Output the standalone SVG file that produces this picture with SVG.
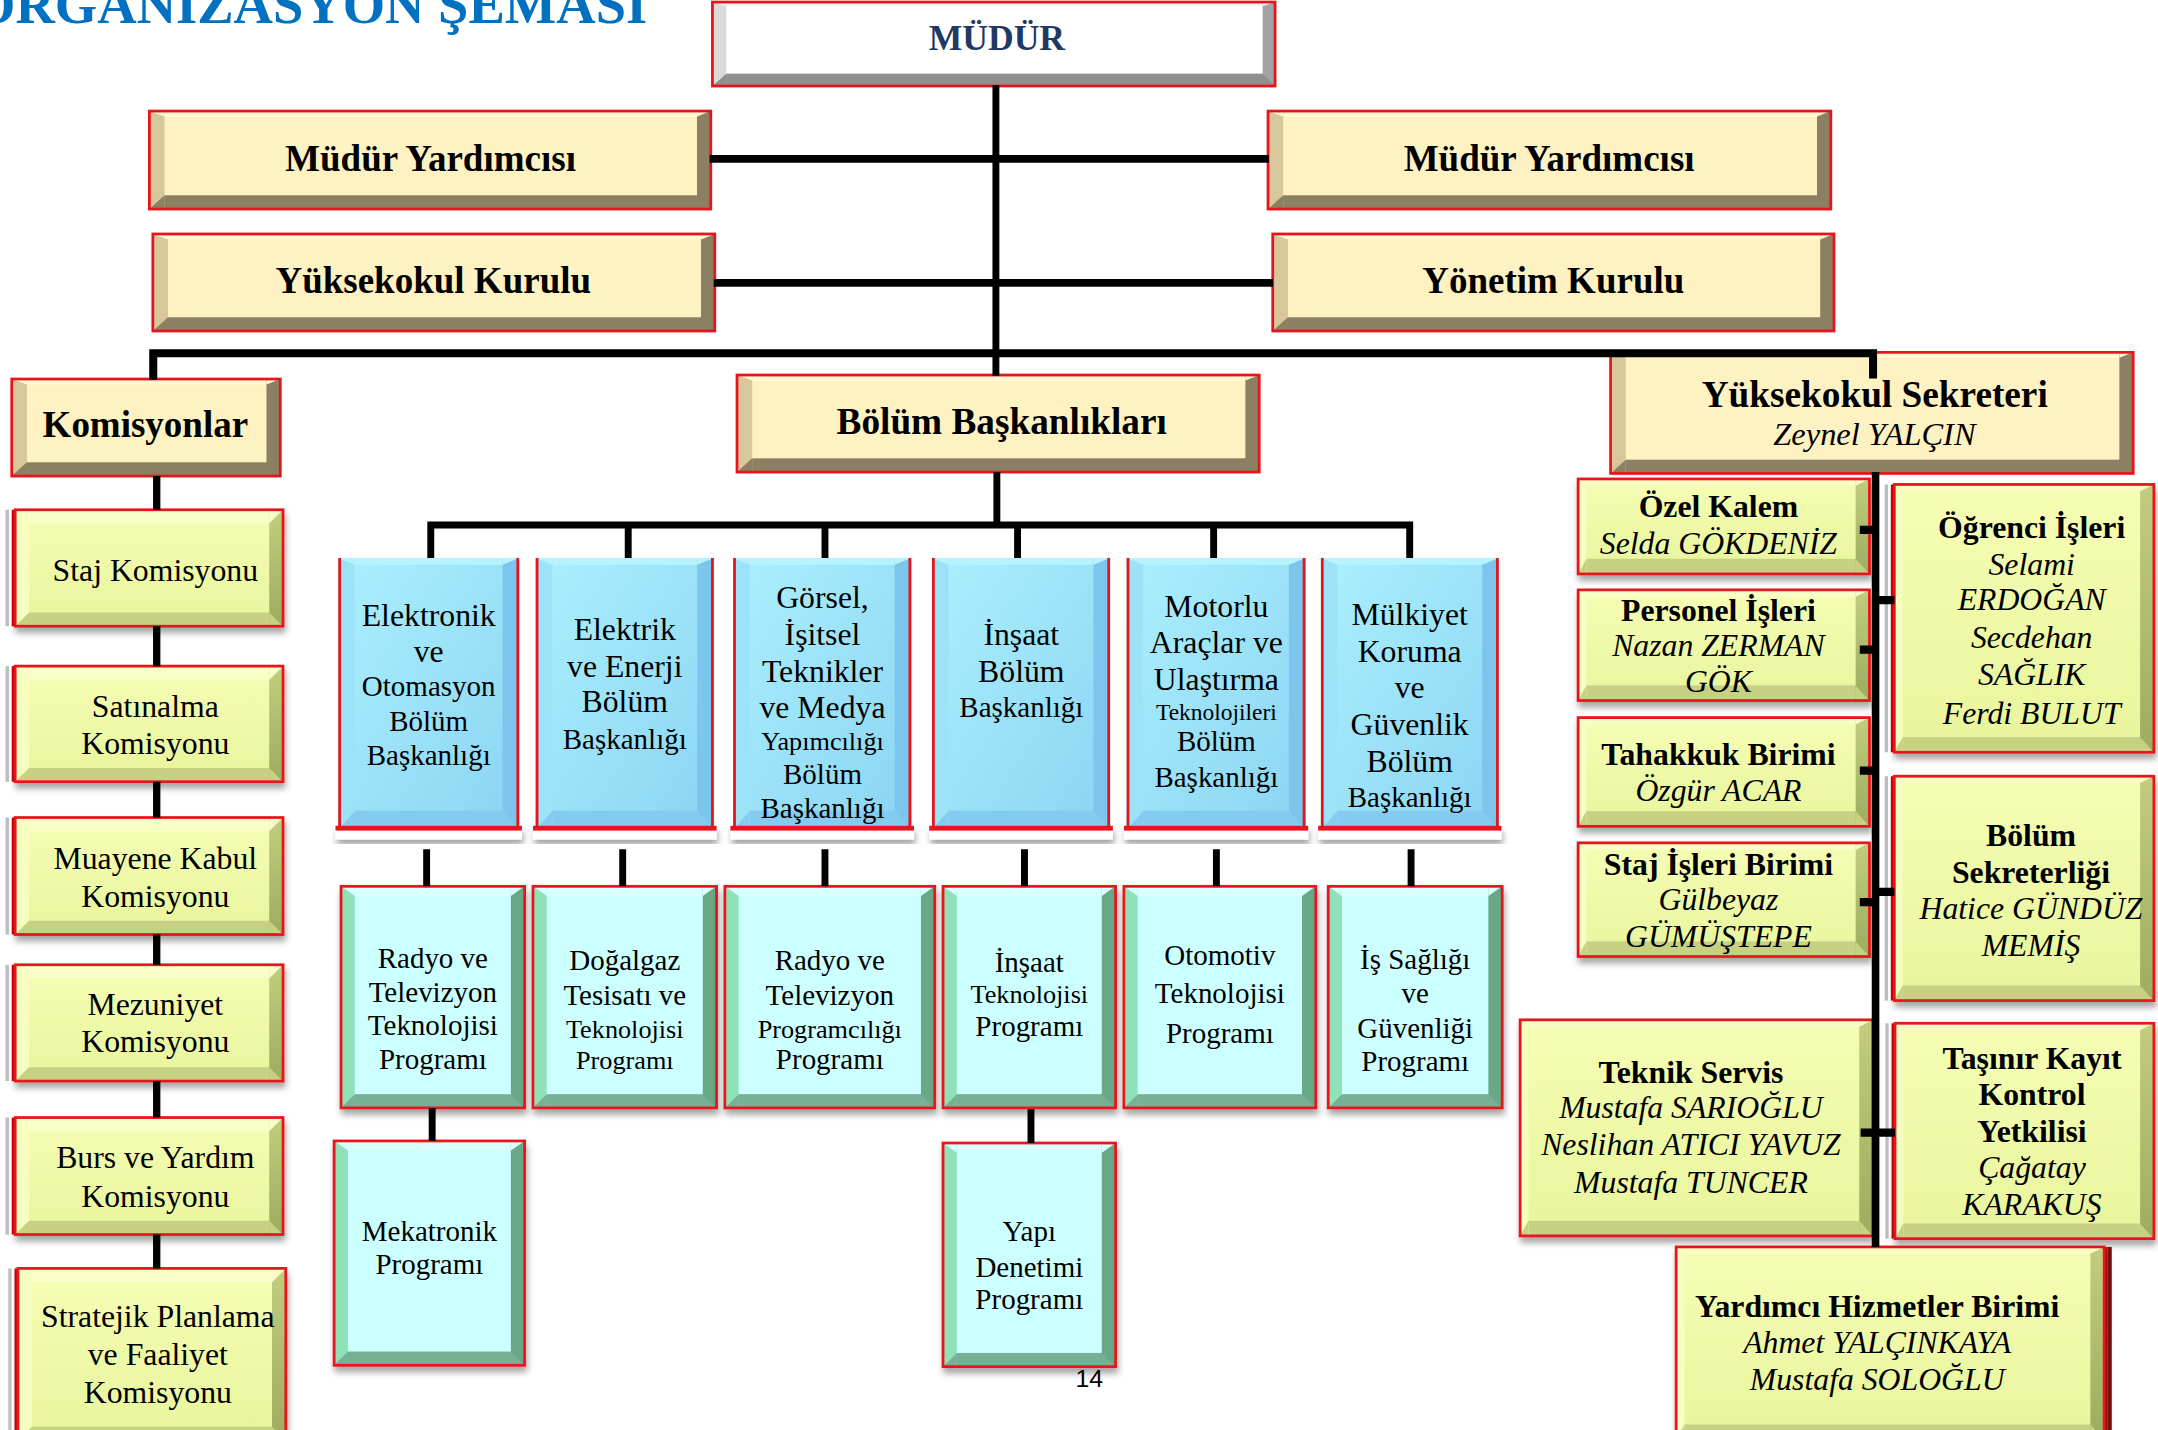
<svg xmlns="http://www.w3.org/2000/svg" width="2158" height="1430" viewBox="0 0 2158 1430">
<defs>
<style>
text{font-family:"Liberation Serif","Times New Roman",serif;text-anchor:middle;fill:#000}
.b{font-weight:bold}
.i{font-style:italic}
.h{font-size:26.8px;font-weight:bold}
.s23{font-size:23px}
.s22{font-size:22px}
.s21{font-size:21px}
.s19{font-size:19px}
.s17{font-size:17px}
.bt{font-size:23px;font-weight:bold}
.it{font-size:23px;font-style:italic}
.cn path{stroke:#000;fill:none;stroke-width:5.5}
</style>
<linearGradient id="gBlue" x1="0" y1="0" x2="1" y2="1"><stop offset="0" stop-color="#ACF0FD"/><stop offset="1" stop-color="#8AD4F3"/></linearGradient>
<linearGradient id="gLime" x1="0" y1="0" x2="0" y2="1"><stop offset="0" stop-color="#F5FDB4"/><stop offset="1" stop-color="#E8F59C"/></linearGradient>
<linearGradient id="gOlive" x1="0" y1="0" x2="0" y2="1"><stop offset="0" stop-color="#C2CD7E"/><stop offset="1" stop-color="#9DAC60"/></linearGradient>
<filter id="ds" x="-10%" y="-10%" width="125%" height="140%"><feDropShadow dx="1" dy="4" stdDeviation="2.5" flood-color="#000" flood-opacity="0.35"/></filter>

<symbol id="bWhite" overflow="visible">
<rect width="100%" height="100%" fill="#FFFFFF"/>
<rect width="100%" height="3" fill="#F4F4F4"/>
<svg y="100%" overflow="visible"><rect y="-9" width="100%" height="9" fill="#8F8F8F"/></svg>
<rect width="10" height="100%" fill="#DADADA"/>
<polygon points="0,0 10,0 10,3" fill="#F4F4F4"/>
<svg y="100%" overflow="visible"><polygon points="10,-9 10,0 0,0" fill="#8F8F8F"/></svg>
<svg x="100%" overflow="visible"><rect x="-9" width="9" height="100%" fill="#A3A3A3"/><polygon points="0,0 -9,0 -9,3" fill="#F4F4F4"/></svg>
<svg x="100%" y="100%" overflow="visible"><polygon points="-9,-9 -9,0 0,0" fill="#8F8F8F"/></svg>
<rect width="100%" height="100%" fill="none" stroke="#E8141B" stroke-width="2"/>
</symbol>

<symbol id="bTan" overflow="visible">
<rect width="100%" height="100%" fill="#FFF2C2"/>
<rect width="100%" height="4" fill="#FFF9D4"/>
<svg y="100%" overflow="visible"><rect y="-10" width="100%" height="10" fill="#8C8062"/></svg>
<rect width="11" height="100%" fill="#D8C79A"/>
<polygon points="0,0 11,0 11,4" fill="#FFF9D4"/>
<svg y="100%" overflow="visible"><polygon points="11,-10 11,0 0,0" fill="#8C8062"/></svg>
<svg x="100%" overflow="visible"><rect x="-10" width="10" height="100%" fill="#8C8062"/><polygon points="0,0 -10,0 -10,4" fill="#FFF9D4"/></svg>
<svg x="100%" y="100%" overflow="visible"><polygon points="-10,-10 -10,0 0,0" fill="#8C8062"/></svg>
<rect width="100%" height="100%" fill="none" stroke="#E8141B" stroke-width="2"/>
</symbol>

<symbol id="bBlue" overflow="visible">
<rect width="100%" height="100%" fill="url(#gBlue)"/>
<rect width="100%" height="5" fill="#B6F3FF"/>
<svg y="100%" overflow="visible"><rect y="-14" width="100%" height="14" fill="#84CCEF"/></svg>
<rect width="12" height="100%" fill="#9CE3F8"/>
<polygon points="0,0 12,0 12,5" fill="#B6F3FF"/>
<svg y="100%" overflow="visible"><polygon points="12,-14 12,0 0,0" fill="#84CCEF"/></svg>
<svg x="100%" overflow="visible"><rect x="-12" width="12" height="100%" fill="#7CC5EC"/><polygon points="0,0 -12,0 -12,5" fill="#B6F3FF"/><rect x="-2" width="2" height="100%" fill="#E8141B"/></svg>
<svg x="100%" y="100%" overflow="visible"><polygon points="-12,-14 -12,0 0,0" fill="#84CCEF"/></svg>
<rect width="2" height="100%" fill="#E8141B"/>
</symbol>

<symbol id="bCyan" overflow="visible">
<rect width="100%" height="100%" fill="#CCFFFF"/>
<rect width="100%" height="7" fill="#D9FFFF"/>
<svg y="100%" overflow="visible"><rect y="-10" width="100%" height="10" fill="#78B095"/></svg>
<rect width="10" height="100%" fill="#8FE2B8"/>
<polygon points="0,0 10,0 10,7" fill="#D9FFFF"/>
<svg y="100%" overflow="visible"><polygon points="10,-10 10,0 0,0" fill="#78B095"/></svg>
<svg x="100%" overflow="visible"><rect x="-10" width="10" height="100%" fill="#67A886"/><polygon points="0,0 -10,0 -10,7" fill="#D9FFFF"/></svg>
<svg x="100%" y="100%" overflow="visible"><polygon points="-10,-10 -10,0 0,0" fill="#78B095"/></svg>
<rect width="100%" height="100%" fill="none" stroke="#E8141B" stroke-width="2"/>
</symbol>

<symbol id="bLimeA" overflow="visible">
<rect width="100%" height="100%" fill="url(#gLime)"/>
<rect width="100%" height="10" fill="#F8FFC6"/>
<svg y="100%" overflow="visible"><rect y="-10" width="100%" height="10" fill="#C6D181"/></svg>
<rect width="10" height="100%" fill="#F6FEC0"/>
<polygon points="0,0 10,0 10,10" fill="#F8FFC6"/>
<svg y="100%" overflow="visible"><polygon points="10,-10 10,0 0,0" fill="#C6D181"/></svg>
<svg x="100%" overflow="visible"><rect x="-10" width="10" height="100%" fill="url(#gOlive)"/><polygon points="0,0 -10,0 -10,10" fill="#F8FFC6"/></svg>
<svg x="100%" y="100%" overflow="visible"><polygon points="-10,-10 -10,0 0,0" fill="#C6D181"/></svg>
<rect width="100%" height="100%" fill="none" stroke="#E8141B" stroke-width="2"/>
</symbol>

<symbol id="bLimeB" overflow="visible">
<rect width="100%" height="100%" fill="url(#gLime)"/>
<rect width="100%" height="5" fill="#F8FFC6"/>
<svg y="100%" overflow="visible"><rect y="-11" width="100%" height="11" fill="#C6D181"/></svg>
<rect width="6" height="100%" fill="#F6FEC0"/>
<polygon points="0,0 6,0 6,5" fill="#F8FFC6"/>
<svg y="100%" overflow="visible"><polygon points="6,-11 6,0 0,0" fill="#C6D181"/></svg>
<svg x="100%" overflow="visible"><rect x="-10" width="10" height="100%" fill="url(#gOlive)"/><polygon points="0,0 -10,0 -10,5" fill="#F8FFC6"/></svg>
<svg x="100%" y="100%" overflow="visible"><polygon points="-10,-11 -10,0 0,0" fill="#C6D181"/></svg>
<rect width="100%" height="100%" fill="none" stroke="#E8141B" stroke-width="2"/>
</symbol>

<symbol id="extL" overflow="visible">
<rect x="-7" width="2.5" height="100%" fill="#BDBDBD"/>
<rect x="-4.5" width="2" height="100%" fill="#FFFFFF"/>
<rect x="-2.5" width="2.5" height="100%" fill="#D40000"/>
</symbol>
<symbol id="extR" overflow="visible">
<svg x="100%" overflow="visible"><rect width="2.5" height="100%" fill="#D40000"/><rect x="2.5" width="3" height="100%" fill="#7A1010"/></svg>
</symbol>
</defs>

<rect width="2158" height="1430" fill="#FFFFFF"/>
<g transform="scale(1.3807 1.3763)">

<text x="-19.5" y="16.5" style="font-size:39.5px;font-weight:bold;fill:#0070C0;text-anchor:start">ORGANİZASYON ŞEMASI</text>

<g id="mudur"><use href="#bWhite" x="516" y="1.5" width="407.5" height="61"/><text x="722" y="36" class="b" style="font-size:25.8px;fill:#1F3864">MÜDÜR</text></g>
<g id="mudur-yardimcisi-1"><use href="#bTan" x="108.2" y="80.7" width="406.6" height="71.2"/><text x="311.8" y="124" class="h">Müdür Yardımcısı</text></g>
<g id="mudur-yardimcisi-2"><use href="#bTan" x="918.4" y="80.7" width="407.6" height="71.2"/><text x="1122" y="124" class="h">Müdür Yardımcısı</text></g>
<g id="yuksekokul-kurulu"><use href="#bTan" x="110.7" y="170" width="407" height="70.5"/><text x="313.8" y="212.7" class="h">Yüksekokul Kurulu</text></g>
<g id="yonetim-kurulu"><use href="#bTan" x="921.8" y="170" width="406.5" height="70.5"/><text x="1125" y="212.7" class="h">Yönetim Kurulu</text></g>
<g id="komisyonlar"><use href="#bTan" x="8.5" y="275.4" width="194.5" height="70.5"/><text x="105.3" y="317.3" class="h">Komisyonlar</text></g>
<g id="bolum-baskanliklari"><use href="#bTan" x="533.8" y="272.5" width="378.2" height="70.5"/><text x="725.5" y="315" class="h" style="font-size:27px">Bölüm Başkanlıkları</text></g>
<g id="yuksekokul-sekreteri"><use href="#bTan" x="1166.5" y="256" width="378.5" height="88"/><text x="1357.8" y="296" class="h" style="font-size:27px">Yüksekokul Sekreteri</text><text x="1357.6" y="323.5" class="i" style="font-size:23.5px">Zeynel YALÇIN</text></g>

<!-- departments -->
<g id="dept-elektronik"><rect x="243" y="600" width="135" height="10" fill="#FFFFFF" filter="url(#ds)"/><use href="#bBlue" x="245" y="405.4" width="131" height="197.6"/><rect x="243" y="600" width="135" height="3.5" fill="#E8141B"/>
<text x="310.5" y="455" class="s23">Elektronik</text><text x="310.5" y="481" class="s23">ve</text><text x="310.5" y="506" class="s21">Otomasyon</text><text x="310.5" y="531" class="s21">Bölüm</text><text x="310.5" y="556" class="s21">Başkanlığı</text></g>
<g id="dept-elektrik"><rect x="386" y="600" width="133" height="10" fill="#FFFFFF" filter="url(#ds)"/><use href="#bBlue" x="388" y="405.4" width="129" height="197.6"/><rect x="386" y="600" width="133" height="3.5" fill="#E8141B"/>
<text x="452.5" y="465" class="s23">Elektrik</text><text x="452.5" y="492" class="s23">ve Enerji</text><text x="452.5" y="517" class="s23">Bölüm</text><text x="452.5" y="544" class="s21">Başkanlığı</text></g>
<g id="dept-gorsel"><rect x="529" y="600" width="133" height="10" fill="#FFFFFF" filter="url(#ds)"/><use href="#bBlue" x="531" y="405.4" width="129" height="197.6"/><rect x="529" y="600" width="133" height="3.5" fill="#E8141B"/>
<text x="595.7" y="442" class="s23">Görsel,</text><text x="595.7" y="469" class="s23">İşitsel</text><text x="595.7" y="495.5" class="s23">Teknikler</text><text x="595.7" y="522" class="s23">ve Medya</text><text x="595.7" y="545" class="s19">Yapımcılığı</text><text x="595.7" y="570" class="s21">Bölüm</text><text x="595.7" y="594" class="s21">Başkanlığı</text></g>
<g id="dept-insaat"><rect x="673" y="600" width="133" height="10" fill="#FFFFFF" filter="url(#ds)"/><use href="#bBlue" x="675" y="405.4" width="129" height="197.6"/><rect x="673" y="600" width="133" height="3.5" fill="#E8141B"/>
<text x="739.7" y="469" class="s23">İnşaat</text><text x="739.7" y="495.5" class="s23">Bölüm</text><text x="739.7" y="521" class="s21">Başkanlığı</text></g>
<g id="dept-motorlu"><rect x="814" y="600" width="133.5" height="10" fill="#FFFFFF" filter="url(#ds)"/><use href="#bBlue" x="816" y="405.4" width="129.5" height="197.6"/><rect x="814" y="600" width="133.5" height="3.5" fill="#E8141B"/>
<text x="881" y="448" class="s23">Motorlu</text><text x="881" y="474.6" class="s23">Araçlar ve</text><text x="881" y="501" class="s23">Ulaştırma</text><text x="881" y="523" class="s17">Teknolojileri</text><text x="881" y="546" class="s21">Bölüm</text><text x="881" y="571.6" class="s21">Başkanlığı</text></g>
<g id="dept-mulkiyet"><rect x="954.7" y="600" width="132.8" height="10" fill="#FFFFFF" filter="url(#ds)"/><use href="#bBlue" x="956.7" y="405.4" width="128.8" height="197.6"/><rect x="954.7" y="600" width="132.8" height="3.5" fill="#E8141B"/>
<text x="1021" y="454" class="s23">Mülkiyet</text><text x="1021" y="481" class="s23">Koruma</text><text x="1021" y="507" class="s23">ve</text><text x="1021" y="534" class="s23">Güvenlik</text><text x="1021" y="560.7" class="s23">Bölüm</text><text x="1021" y="586" class="s21">Başkanlığı</text></g>

<!-- programs -->
<g id="prog-rtv-tek"><use href="#bCyan" x="247" y="644" width="133" height="161" filter="url(#ds)"/>
<text x="313.5" y="703.5" class="s21">Radyo ve</text><text x="313.5" y="728" class="s21">Televizyon</text><text x="313.5" y="752" class="s21">Teknolojisi</text><text x="313.5" y="776.5" class="s21">Programı</text></g>
<g id="prog-dogalgaz"><use href="#bCyan" x="386" y="644" width="133" height="161" filter="url(#ds)"/>
<text x="452.5" y="705" class="s21">Doğalgaz</text><text x="452.5" y="730" class="s21">Tesisatı ve</text><text x="452.5" y="754" class="s19">Teknolojisi</text><text x="452.5" y="777" class="s19">Programı</text></g>
<g id="prog-rtv-prog"><use href="#bCyan" x="525" y="644" width="152" height="161" filter="url(#ds)"/>
<text x="601" y="705" class="s21">Radyo ve</text><text x="601" y="730" class="s21">Televizyon</text><text x="601" y="754" class="s19">Programcılığı</text><text x="601" y="777" class="s21">Programı</text></g>
<g id="prog-insaat"><use href="#bCyan" x="683" y="644" width="125" height="161" filter="url(#ds)"/>
<text x="745.5" y="706" class="s21">İnşaat</text><text x="745.5" y="729" class="s19">Teknolojisi</text><text x="745.5" y="753" class="s21">Programı</text></g>
<g id="prog-otomotiv"><use href="#bCyan" x="814" y="644" width="139" height="161" filter="url(#ds)"/>
<text x="883.5" y="701" class="s21">Otomotiv</text><text x="883.5" y="729" class="s21">Teknolojisi</text><text x="883.5" y="757.6" class="s21">Programı</text></g>
<g id="prog-is-sagligi"><use href="#bCyan" x="962" y="644" width="126" height="161" filter="url(#ds)"/>
<text x="1025" y="704" class="s21">İş Sağlığı</text><text x="1025" y="729" class="s21">ve</text><text x="1025" y="754.5" class="s21">Güvenliği</text><text x="1025" y="778.5" class="s21">Programı</text></g>
<g id="prog-mekatronik"><use href="#bCyan" x="242" y="829" width="138" height="163" filter="url(#ds)"/>
<text x="311" y="901.5" class="s21">Mekatronik</text><text x="311" y="925.7" class="s21">Programı</text></g>
<g id="prog-yapi"><use href="#bCyan" x="683" y="830.5" width="125" height="162.5" filter="url(#ds)"/>
<text x="745.5" y="902" class="s21">Yapı</text><text x="745.5" y="927.5" class="s21">Denetimi</text><text x="745.5" y="951" class="s21">Programı</text></g>

<!-- committees -->
<g id="kom-staj"><use href="#extL" x="11" y="370.4" width="194" height="84.6"/><use href="#bLimeA" x="11" y="370.4" width="194" height="84.6" filter="url(#ds)"/>
<text x="112.5" y="422" class="s23">Staj Komisyonu</text></g>
<g id="kom-satinalma"><use href="#extL" x="11" y="484" width="194" height="84"/><use href="#bLimeA" x="11" y="484" width="194" height="84" filter="url(#ds)"/>
<text x="112.5" y="521" class="s23">Satınalma</text><text x="112.5" y="548" class="s23">Komisyonu</text></g>
<g id="kom-muayene"><use href="#extL" x="11" y="594" width="194" height="85"/><use href="#bLimeA" x="11" y="594" width="194" height="85" filter="url(#ds)"/>
<text x="112.5" y="631.5" class="s23">Muayene Kabul</text><text x="112.5" y="658.7" class="s23">Komisyonu</text></g>
<g id="kom-mezuniyet"><use href="#extL" x="11" y="701" width="194" height="84.5"/><use href="#bLimeA" x="11" y="701" width="194" height="84.5" filter="url(#ds)"/>
<text x="112.5" y="737.5" class="s23">Mezuniyet</text><text x="112.5" y="764.7" class="s23">Komisyonu</text></g>
<g id="kom-burs"><use href="#extL" x="11" y="812" width="194" height="85"/><use href="#bLimeA" x="11" y="812" width="194" height="85" filter="url(#ds)"/>
<text x="112.5" y="848.7" class="s23">Burs ve Yardım</text><text x="112.5" y="876.8" class="s23">Komisyonu</text></g>
<g id="kom-stratejik"><use href="#extL" x="13" y="921.6" width="194" height="125"/><use href="#bLimeA" x="13" y="921.6" width="194" height="125" filter="url(#ds)"/>
<text x="114.3" y="964" class="s23">Stratejik Planlama</text><text x="114.3" y="992" class="s23">ve Faaliyet</text><text x="114.3" y="1019.6" class="s23">Komisyonu</text></g>

<!-- secretary units -->
<g id="ozel-kalem"><use href="#bLimeB" x="1143" y="348" width="211" height="69" filter="url(#ds)"/>
<text x="1244.6" y="376" class="bt">Özel Kalem</text><text x="1244.6" y="402.6" class="it">Selda GÖKDENİZ</text></g>
<g id="personel-isleri"><use href="#bLimeB" x="1143" y="428.6" width="211" height="80.4" filter="url(#ds)"/>
<text x="1244.6" y="451" class="bt">Personel İşleri</text><text x="1244.6" y="477" class="it">Nazan ZERMAN</text><text x="1244.6" y="502.7" class="it">GÖK</text></g>
<g id="tahakkuk"><use href="#bLimeB" x="1143" y="521.4" width="211" height="79" filter="url(#ds)"/>
<text x="1244.6" y="555.5" class="bt">Tahakkuk Birimi</text><text x="1244.6" y="582" class="it">Özgür ACAR</text></g>
<g id="staj-isleri"><use href="#bLimeB" x="1143" y="612.4" width="211" height="82.6" filter="url(#ds)"/>
<text x="1244.6" y="635.5" class="bt">Staj İşleri Birimi</text><text x="1244.6" y="661" class="it">Gülbeyaz</text><text x="1244.6" y="688" class="it">GÜMÜŞTEPE</text></g>
<g id="ogrenci-isleri"><use href="#extL" x="1372" y="352" width="188" height="194.6"/><use href="#bLimeB" x="1372" y="352" width="188" height="194.6" filter="url(#ds)"/>
<text x="1471.5" y="391" class="bt">Öğrenci İşleri</text><text x="1471.5" y="417.6" class="it">Selami</text><text x="1471.5" y="443" class="it">ERDOĞAN</text><text x="1471.5" y="471" class="it">Secdehan</text><text x="1471.5" y="497.7" class="it">SAĞLIK</text><text x="1471.5" y="525.8" class="it">Ferdi BULUT</text></g>
<g id="bolum-sekreterligi"><use href="#extL" x="1372" y="564" width="188" height="163"/><use href="#bLimeB" x="1372" y="564" width="188" height="163" filter="url(#ds)"/>
<text x="1471" y="614.7" class="bt">Bölüm</text><text x="1471" y="641.6" class="bt">Sekreterliği</text><text x="1471" y="667.6" class="it">Hatice GÜNDÜZ</text><text x="1471" y="694.6" class="it">MEMİŞ</text></g>
<g id="teknik-servis"><use href="#bLimeB" x="1101" y="741" width="255.6" height="157" filter="url(#ds)"/>
<text x="1224.7" y="787" class="bt">Teknik Servis</text><text x="1224.7" y="812.5" class="it">Mustafa SARIOĞLU</text><text x="1224.7" y="839" class="it">Neslihan ATICI YAVUZ</text><text x="1224.7" y="867" class="it">Mustafa TUNCER</text></g>
<g id="tasinir-kayit"><use href="#extL" x="1372.5" y="743.5" width="187.5" height="156.5"/><use href="#bLimeB" x="1372.5" y="743.5" width="187.5" height="156.5" filter="url(#ds)"/>
<text x="1471.7" y="776.7" class="bt">Taşınır Kayıt</text><text x="1471.7" y="803" class="bt">Kontrol</text><text x="1471.7" y="829.5" class="bt">Yetkilisi</text><text x="1471.7" y="856" class="it">Çağatay</text><text x="1471.7" y="883" class="it">KARAKUŞ</text></g>
<g id="yardimci-hizmetler"><use href="#extR" x="1214" y="906" width="310" height="140"/><use href="#bLimeB" x="1214" y="906" width="310" height="140" filter="url(#ds)"/>
<text x="1359.6" y="956.7" class="bt">Yardımcı Hizmetler Birimi</text><text x="1359.6" y="983" class="it">Ahmet YALÇINKAYA</text><text x="1359.6" y="1010" class="it">Mustafa SOLOĞLU</text></g>

<text x="789" y="1008" style="font-family:'Liberation Sans',Arial,sans-serif;font-size:18px">14</text>

<g id="connectors" class="cn">
<path d="M514 115.4 H919" style="stroke-width:5.6"/>
<path d="M517 205.6 H922" style="stroke-width:5.6"/>
<path d="M721.3 62 V273" style="stroke-width:5"/>
<path d="M111 276 V256.7 H1356.6 V275" style="stroke-width:5.8"/>
<path d="M722 343 V381.5" style="stroke-width:5"/>
<path d="M312 405.5 V381.5 H1021 V405.5" style="stroke-width:5"/>
<path d="M455 381.5 V405.5 M597.5 381.5 V405.5 M737 381.5 V405.5 M879 381.5 V405.5" style="stroke-width:5"/>
<path d="M309 617 V644 M451 617 V644 M597.5 617 V644 M742 617 V644 M881 617 V644 M1022 617 V644" style="stroke-width:5"/>
<path d="M313 805 V829 M746.7 806 V830.5" style="stroke-width:5"/>
<path d="M113.5 345.9 V370.4 M113.5 455 V484 M113.5 568 V594 M113.5 679 V701 M113.5 785.5 V812 M113.5 897 V921.6" style="stroke-width:5.3"/>
<path d="M1358.4 343 V906" style="stroke-width:5.5"/>
<path d="M1347 385 H1358 M1347 472 H1358 M1347 560 H1358 M1347 655.5 H1358 M1358 436 H1372 M1358 648 H1372 M1347.6 823 H1372.5" style="stroke-width:6"/>
</g>
</g>
</svg>
